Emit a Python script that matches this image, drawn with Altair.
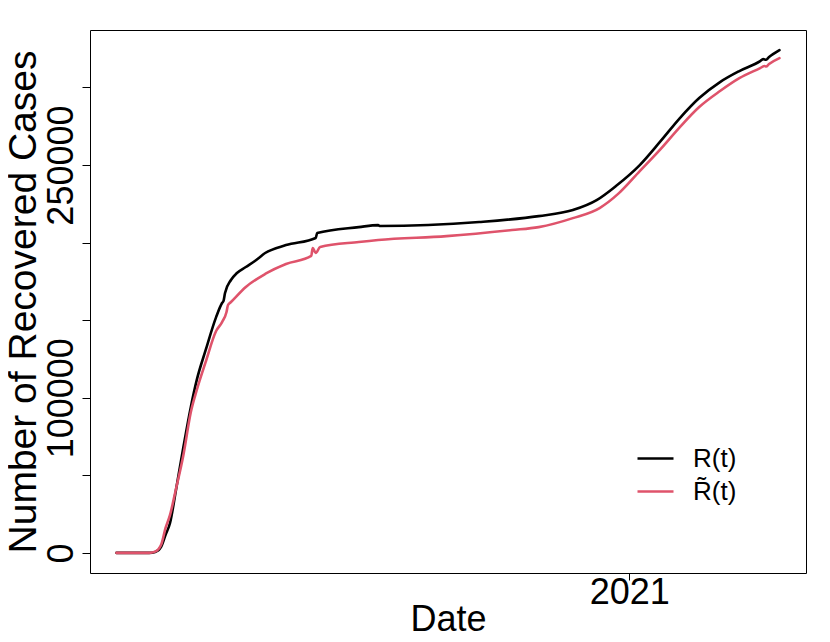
import altair as alt
import pandas as pd

# ---- data ----
r_dates = [
    "2020-01-22", "2020-02-13", "2020-02-17", "2020-02-21", "2020-02-24", "2020-02-27",
    "2020-03-02", "2020-03-07", "2020-03-12", "2020-03-16", "2020-03-22", "2020-03-29",
    "2020-04-02", "2020-04-03", "2020-04-04", "2020-04-08", "2020-04-12", "2020-04-18",
    "2020-04-25", "2020-05-01", "2020-05-15", "2020-06-04", "2020-06-05", "2020-07-03",
    "2020-07-16", "2020-07-17", "2020-09-22", "2020-11-01", "2020-11-24", "2020-12-10",
    "2020-12-23", "2021-01-08", "2021-01-22", "2021-02-04", "2021-02-17", "2021-03-03",
    "2021-03-16", "2021-03-30", "2021-04-01", "2021-04-03", "2021-04-05", "2021-04-12",
]
r_values = [
    0, 0, 600, 3900, 11600, 19300,
    40600, 68300, 94100, 111500, 130800, 152000,
    161100, 162500, 167500, 175900, 180400, 184300,
    188800, 193300, 198400, 203000, 206200, 210000,
    211300, 210700, 213300, 217100, 221000, 227400,
    236500, 250000, 265400, 280300, 293200, 303500,
    310600, 317000, 318300, 317900, 319600, 324100,
]

rt_dates = [
    "2020-01-22", "2020-02-13", "2020-02-17", "2020-02-21", "2020-02-24", "2020-02-27",
    "2020-03-02", "2020-03-07", "2020-03-12", "2020-03-16", "2020-03-22", "2020-03-29",
    "2020-04-02", "2020-04-05", "2020-04-06", "2020-04-08", "2020-04-18", "2020-05-01",
    "2020-05-15", "2020-06-01", "2020-06-02", "2020-06-04", "2020-06-07", "2020-07-03",
    "2020-07-16", "2020-08-31", "2020-10-14", "2020-11-01", "2020-11-24", "2020-12-12",
    "2020-12-25", "2021-01-08", "2021-01-22", "2021-02-04", "2021-02-17", "2021-03-03",
    "2021-03-16", "2021-03-30", "2021-04-02", "2021-04-03", "2021-04-05", "2021-04-12",
]
rt_values = [
    0, 0, 800, 5200, 16100, 24500,
    41200, 63100, 90800, 105000, 123100, 143000,
    148800, 155300, 159800, 161700, 171400, 179800,
    186200, 191400, 196500, 193300, 197200, 200400,
    201700, 204200, 208100, 210000, 215800, 222300,
    231900, 246100, 260300, 274500, 287400, 297700,
    306000, 312500, 313900, 313500, 315100, 318900,
]

series_names = ["R(t)", "R\u0303(t)"]
series_colors = ["#000000", "#DF536B"]
y_ticks = [0, 50000, 100000, 150000, 200000, 250000, 300000]
y_shown = [0, 100000, 250000]

# ---- build table ----
df = pd.concat([
    pd.DataFrame({"date": r_dates, "value": r_values, "series": series_names[0], "order": 0}),
    pd.DataFrame({"date": rt_dates, "value": rt_values, "series": series_names[1], "order": 1}),
], ignore_index=True)

# R-style 4% axis extension
t0 = pd.Timestamp(min(r_dates + rt_dates))
t1 = pd.Timestamp(max(r_dates + rt_dates))
span = t1 - t0
x_dom = [int((t0 - 0.04 * span).value // 10**6), int((t1 + 0.04 * span).value // 10**6)]
vmax = max(r_values + rt_values)
vmin = min(r_values + rt_values)
vr = vmax - vmin
y_dom = [vmin - 0.04 * vr, vmax + 0.04 * vr]

W, H = 716, 543
FONT = "Liberation Sans"

label_test = " || ".join(f"datum.value == {v}" for v in y_shown)

chart = alt.Chart(df).mark_line(
    strokeWidth=2.6, strokeCap="round", strokeJoin="round", interpolate="monotone"
).encode(
    x=alt.X(
        "date:T",
        scale=alt.Scale(type="utc", domain=x_dom, nice=False),
        axis=alt.Axis(
            title="Date",
            values=[alt.DateTime(year=2021, month=1, date=1, utc=True)],
            format="%Y",
            formatType="utc",
            labelAngle=0,
            labelFontSize=36,
            labelPadding=-5,
            tickSize=7,
            tickColor="#000000",
            labelColor="#000000",
            domain=False,
            grid=False,
            titleFontSize=36,
            titleFontWeight="normal",
            titleColor="#000000",
            titleBaseline="alphabetic",
            titleY=57,
        ),
    ),
    y=alt.Y(
        "value:Q",
        scale=alt.Scale(domain=y_dom, nice=False, zero=False),
        axis=alt.Axis(
            title="Number of Recovered Cases",
            values=y_ticks,
            format="d",
            labelExpr=f"({label_test}) ? datum.label : ''",
            labelOverlap=False,
            labelAngle=-90,
            labelAlign="center",
            labelBaseline="alphabetic",
            labelFontSize=36,
            labelPadding=10,
            labelColor="#000000",
            tickSize=8,
            tickColor="#000000",
            domain=False,
            grid=False,
            titleFontSize=39,
            titleFontWeight="normal",
            titleColor="#000000",
            titleAngle=-90,
            titleAlign="center",
            titleBaseline="alphabetic",
            titleX=-55,
            titleY=H / 2,
        ),
    ),
    color=alt.Color(
        "series:N",
        scale=alt.Scale(domain=series_names, range=series_colors),
        sort=series_names,
        legend=alt.Legend(
            title=None,
            orient="none",
            legendX=546,
            legendY=409,
            symbolType="stroke",
            symbolSize=1296,
            symbolStrokeWidth=2.6,
            labelFontSize=26,
            labelOffset=18,
            labelColor="#000000",
            padding=0,
            rowPadding=-2,
        ),
    ),
    order=alt.Order("order:Q"),
    detail="series:N",
).properties(
    width=W,
    height=H,
    autosize=alt.AutoSizeParams(type="none"),
    padding={"left": 82, "top": 22, "right": 16, "bottom": 61},
).configure(
    font=FONT,
).configure_view(
    stroke="#000000",
    strokeWidth=1,
)

chart.save("out.html", embed_options={"renderer": "svg", "actions": False})
